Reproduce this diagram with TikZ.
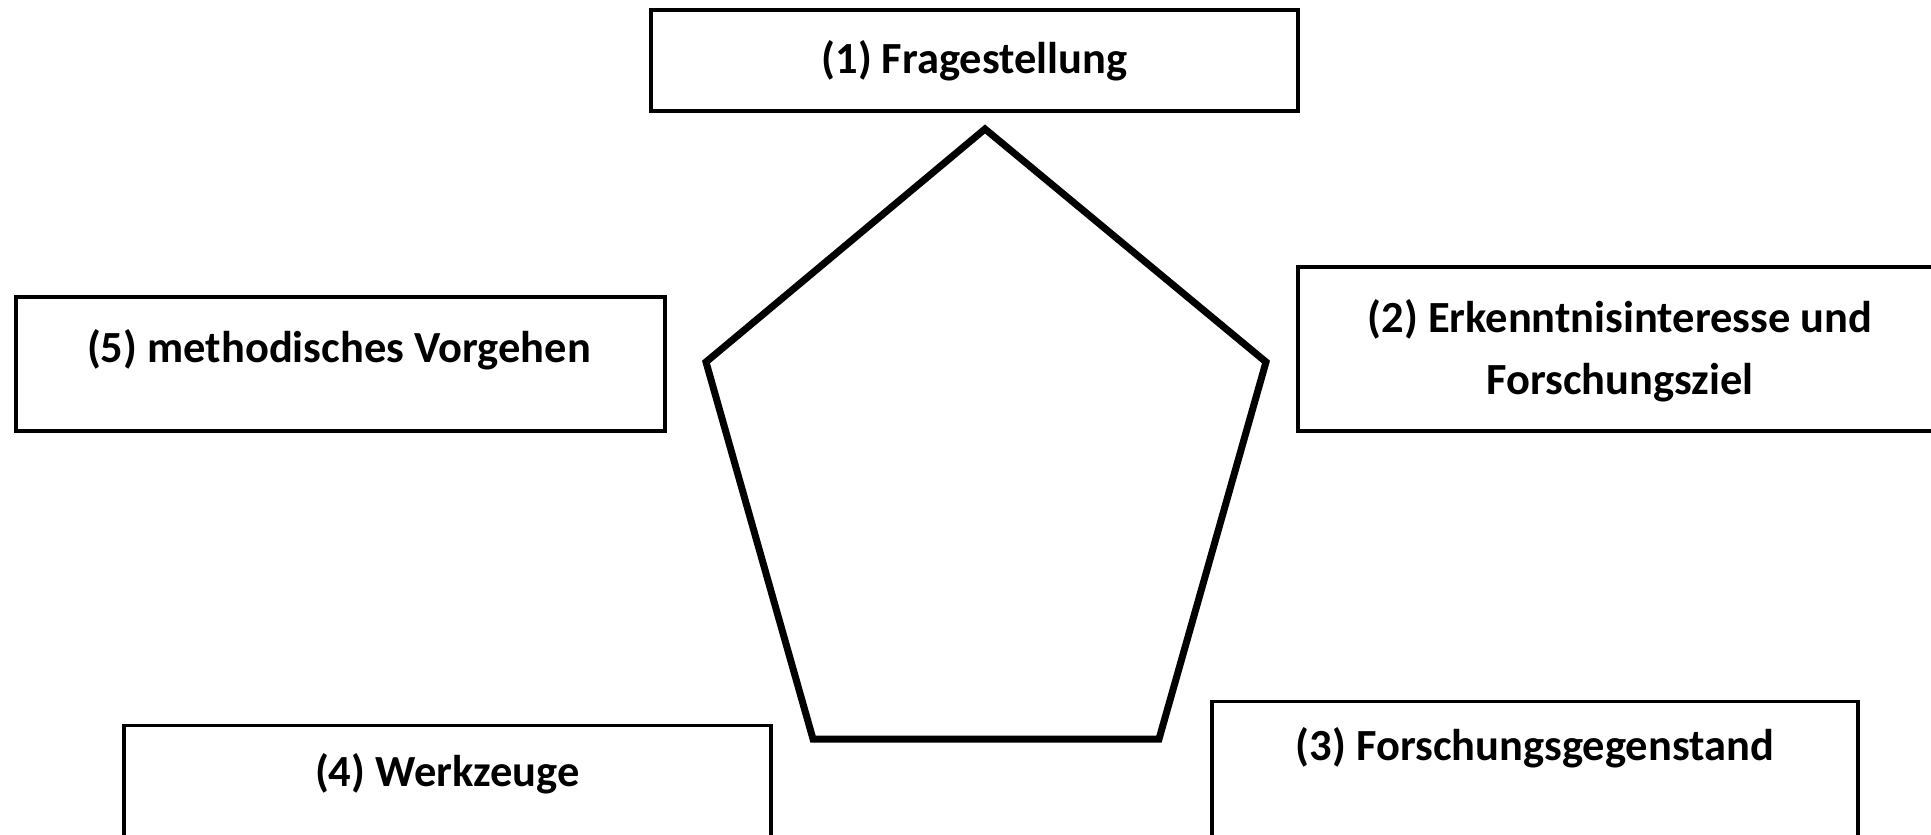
\documentclass[tikz,border=0pt]{standalone}
\usepackage{fontspec}
\setmainfont{Carlito}
\usetikzlibrary{positioning}

\tikzstyle{box}=[draw,line width=3.4pt,rectangle,inner sep=0pt]
\tikzstyle{boxtext}=[font=\fontsize{44.5}{62}\selectfont\bfseries,align=center]
\tikzstyle{pent}=[draw,line width=7pt,line join=miter]

\begin{document}
\begin{tikzpicture}[x=1pt, y=-1pt]
    \useasboundingbox (0,0) rectangle (1931,835);
    % the five boxes round the pentagon
    \node[box,minimum width=647pt,minimum height=101pt] (frage) at (974.5,60.5) {};
    \node[box,minimum width=648pt,minimum height=164pt] (ziel) at (1622,349) {};
    \node[box,minimum width=649pt,minimum height=134pt] (methode) at (340.5,364) {};
    \node[box,anchor=north,minimum width=647pt,minimum height=170pt] (werk) at (447.5,724) {};
    \node[box,anchor=north,minimum width=646pt,minimum height=190pt] (gegen) at (1535,700) {};
    % labels in the boxes
    \node[boxtext] (fragetext) at (frage) {(1) Fragestellung};
    \node[boxtext] (zieltext) at (1620,351) {(2) Erkenntnisinteresse und\\Forschungsziel};
    \node[boxtext] (methodetext) at (339,350) {(5) methodisches Vorgehen};
    \node[boxtext,below=50pt of werk.north,anchor=center] (werktext) {(4) Werkzeuge};
    \node[boxtext,below=48pt of gegen.north,anchor=center] (gegentext) {(3) Forschungsgegenstand};
    % the pentagon
    \path[pent] (985,129) -- (1266,362) -- (1159,739) -- (813,739) -- (706,362) -- cycle;
\end{tikzpicture}
\end{document}
